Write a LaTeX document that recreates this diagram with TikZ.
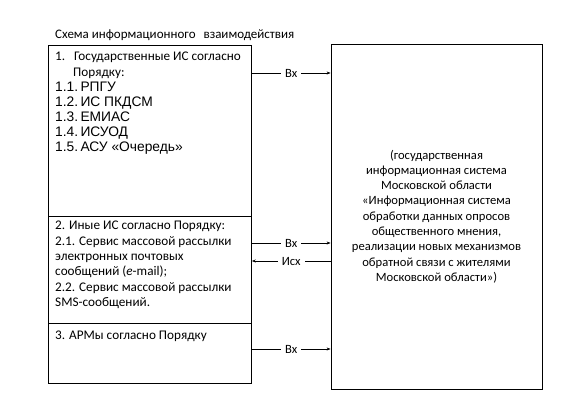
\documentclass[tikz,border=0pt]{standalone}
\usepackage{fontspec}
\setmainfont{Carlito}
\newfontfamily\arialfont{Liberation Sans}
\usetikzlibrary{arrows.meta}

\tikzset{
  secbox/.style={draw, line width=0.8pt, minimum width=203pt, inner sep=0pt, anchor=north west},
  sysbox/.style={draw, line width=0.8pt, minimum width=211pt, minimum height=345pt, inner sep=0pt,
    align=center, font=\fontsize{12.6}{15.3}\selectfont},
  txt/.style={anchor=north west, inner sep=0pt, align=left, font=\fontsize{13.2}{15.4}\selectfont},
  itm/.style={anchor=north west, inner sep=0pt, align=left, font=\arialfont\fontsize{13.8}{15}\selectfont},
  flow/.style={line width=0.7pt, -{Stealth[length=4pt,width=3pt]}},
  lbl/.style={fill=white, inner sep=4pt, font=\fontsize{12.6}{14}\selectfont}
}

\begin{document}
\begin{tikzpicture}[x=1pt,y=1pt,yscale=-1]
  \useasboundingbox (0,0) rectangle (577,406);

  % title
  \node[anchor=west, inner sep=0pt, font=\fontsize{13}{14}\selectfont] (title) at (55,35) {Схема информационного\hspace{5pt} взаимодействия};

  % left column
  \node[secbox, minimum height=171pt] (s1) at (48,45) {};
  \node[secbox, minimum height=107pt] (s2) at (48,216) {};
  \node[secbox, minimum height=60pt] (s3) at (48,323) {};

  \node[txt] (t1) at (55,52) {1.\hspace{9pt}Государственные ИС согласно\\ \hspace{18pt}Порядку:};
  \node[itm] (t1a) at (55,82) {1.1.\,РПГУ\\ 1.2.\,ИС ПКДСМ\\ 1.3.\,ЕМИАС\\ 1.4.\,ИСУОД\\ 1.5.\,АСУ «Очередь»};
  \node[txt] (t2) at (55,221) {2. Иные ИС согласно Порядку:\\ 2.1. Сервис массовой рассылки\\ электронных почтовых\\ сообщений (\textit{e}-mail);\\ 2.2. Сервис массовой рассылки\\ SMS-сообщений.};
  \node[txt] (t3) at (55,331) {3. АРМы согласно Порядку};

  % right box
  \node[sysbox] (sys) at (436.5,216.5) {(государственная\\ информационная система\\ Московской области\\ «Информационная система\\ обработки данных опросов\\ общественного мнения,\\ реализации новых механизмов\\ обратной связи с жителями\\ Московской области»)};

  % connectors
  \draw[flow] (s1.east |- 0,73) -- node[lbl] {Вх} (sys.west |- 0,73);
  \draw[flow] (s2.east |- 0,243) -- node[lbl] {Вх} (sys.west |- 0,243);
  \draw[flow] (sys.west |- 0,261) -- node[lbl] {Исх} (s2.east |- 0,261);
  \draw[flow] (s3.east |- 0,349) -- node[lbl] {Вх} (sys.west |- 0,349);
\end{tikzpicture}
\end{document}
